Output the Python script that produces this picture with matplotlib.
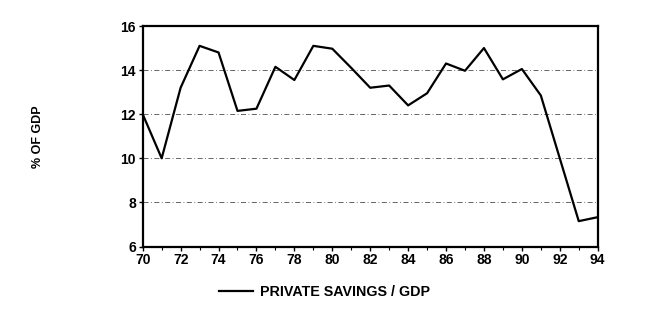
import matplotlib
matplotlib.use("Agg")
import matplotlib.pyplot as plt
import numpy as np

plt.rcParams['font.family'] = ['Liberation Sans', 'DejaVu Sans']
plt.rcParams['font.weight'] = 'bold'

# data
years = np.arange(70, 95)
private_savings = [12.0, 10.0, 13.2, 15.1, 14.8, 12.15, 12.25, 14.15, 13.55, 15.1,
                   14.97, 14.1, 13.2, 13.3, 12.4, 12.95, 14.3, 13.97, 15.0, 13.58,
                   14.05, 12.85, 10.0, 7.15, 7.33]
xtick_labels = ["70", "72", "74", "76", "78", "80", "82", "84", "86", "88", "90", "92", "94"]
yticks = [6, 8, 10, 12, 14, 16]

fig = plt.figure(figsize=(6.54, 3.22), dpi=100)
ax = fig.add_axes([142.7 / 654, 1 - 246.5 / 322, 455 / 654, 220.5 / 322])

line, = ax.plot(years, private_savings, color='black', lw=1.6,
                label='PRIVATE SAVINGS / GDP')

ax.set_xlim(70, 94)
ax.set_ylim(6, 16)
ax.set_xticks(np.arange(70, 95, 2))
ax.set_xticklabels(xtick_labels)
ax.set_xticks(years, minor=True)
ax.set_yticks(yticks)

for y in [8, 10, 12, 14]:
    ax.axhline(y, color='black', lw=0.6, ls=(0, (6, 3, 1, 3)), alpha=0.7)

for s in ax.spines.values():
    s.set_linewidth(1.6)
ax.tick_params(axis='both', labelsize=10, length=3, width=1, pad=2)
ax.tick_params(axis='x', which='minor', length=2, width=0.8)

fig.text(38 / 654, 1 - 137 / 322, '% OF GDP', rotation=90, ha='center', va='center',
         fontsize=9, fontweight='bold')

fig.legend(handles=[line], loc='center left', bbox_to_anchor=(206 / 654, 1 - 292 / 322),
           frameon=False, fontsize=10.3, handlelength=2.4, handletextpad=0.45)

fig.savefig('out.png', dpi=100)
